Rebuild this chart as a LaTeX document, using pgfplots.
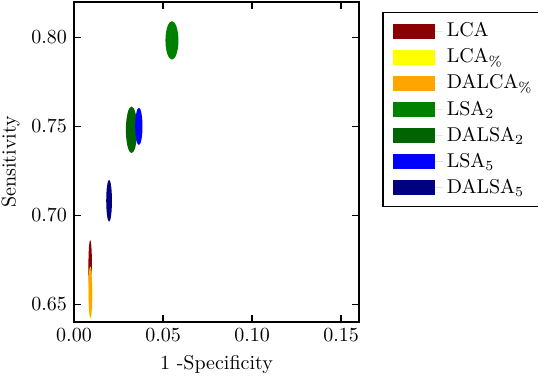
\documentclass[border=0pt]{standalone}
\usepackage{pgfplots}
\pgfplotsset{compat=1.18}
\definecolor{cLCA}{RGB}{139,0,0}
\definecolor{cLCAp}{RGB}{255,255,0}
\definecolor{cDALCAp}{RGB}{255,165,0}
\definecolor{cLSAb}{RGB}{0,128,0}
\definecolor{cDALSAb}{RGB}{0,100,0}
\definecolor{cLSAe}{RGB}{0,0,255}
\definecolor{cDALSAe}{RGB}{0,0,128}

% centre (x,y) and semi-axes (rx,ry) of each ellipse
\pgfplotstableread{
x y rx ry
0.0091 0.6710 0.0010 0.0150
}\tLCA
\pgfplotstableread{
x y rx ry
0.0092 0.6565 0.0011 0.0146
}\tLCAp
\pgfplotstableread{
x y rx ry
0.0092 0.6564 0.0010 0.0140
}\tDALCAp
\pgfplotstableread{
x y rx ry
0.0550 0.7984 0.00364 0.0108
}\tLSAb
\pgfplotstableread{
x y rx ry
0.0323 0.7481 0.00317 0.0131
}\tDALSAb
\pgfplotstableread{
x y rx ry
0.0364 0.7500 0.00205 0.0105
}\tLSAe
\pgfplotstableread{
x y rx ry
0.0197 0.7082 0.00160 0.0118
}\tDALSAe

\pgfplotsset{ellip/.style={scatter, only marks, mark=*, mark size=0pt, draw=none, fill=#1,
  visualization depends on={\thisrow{rx}\as\rx},
  visualization depends on={\thisrow{ry}\as\ry},
  scatter/@pre marker code/.code={%
    \pgfsetfillcolor{#1}%
    \pgfpathellipse{\pgfpointorigin}{\pgfplotspointaxisdirectionxy{\rx}{0}}{\pgfplotspointaxisdirectionxy{0}{\ry}}%
    \pgfusepath{fill}},
  scatter/@post marker code/.code={},
  legend image code/.code={\fill[#1] (0pt,-3.75pt) rectangle (21pt,3.75pt);
    \path (0pt,0pt) -- (25pt,0pt);}}}

\begin{document}
\begin{tikzpicture}
\begin{axis}[
 scale only axis, width=142.5pt, height=160pt,
 disabledatascaling,
 xmin=0, xmax=0.16, ymin=0.64, ymax=0.82,
 xtick={0,0.05,0.10,0.15}, ytick={0.65,0.70,0.75,0.80},
 ticklabel style={/pgf/number format/.cd, fixed, fixed zerofill, precision=2},
 tick align=inside, major tick length=3.6pt,
 axis line style={line width=0.8pt}, major tick style={line width=0.7pt, black},
 xlabel={1 -Specificity}, ylabel={Sensitivity}, ylabel shift=-1pt,
 legend style={at={(1,1)}, anchor=north west, xshift=11.5pt, yshift=-4.8pt,
   draw=black, line width=0.8pt, inner xsep=5pt, inner ysep=3pt,
   row sep=0.4pt, font=\normalsize},
 legend cell align=left,
]
\addplot[ellip=cLCA] table {\tLCA};
\addlegendentry{LCA}
\addplot[ellip=cLCAp] table {\tLCAp};
\addlegendentry{LCA$_{\%}$}
\addplot[ellip=cDALCAp] table {\tDALCAp};
\addlegendentry{DALCA$_{\%}$}
\addplot[ellip=cLSAb] table {\tLSAb};
\addlegendentry{LSA$_2$}
\addplot[ellip=cDALSAb] table {\tDALSAb};
\addlegendentry{DALSA$_2$}
\addplot[ellip=cLSAe] table {\tLSAe};
\addlegendentry{LSA$_5$}
\addplot[ellip=cDALSAe] table {\tDALSAe};
\addlegendentry{DALSA$_5$}
\end{axis}
\pgfresetboundingbox
\path (-37pt,-28pt) rectangle (232pt,161pt);
\end{tikzpicture}
\end{document}
